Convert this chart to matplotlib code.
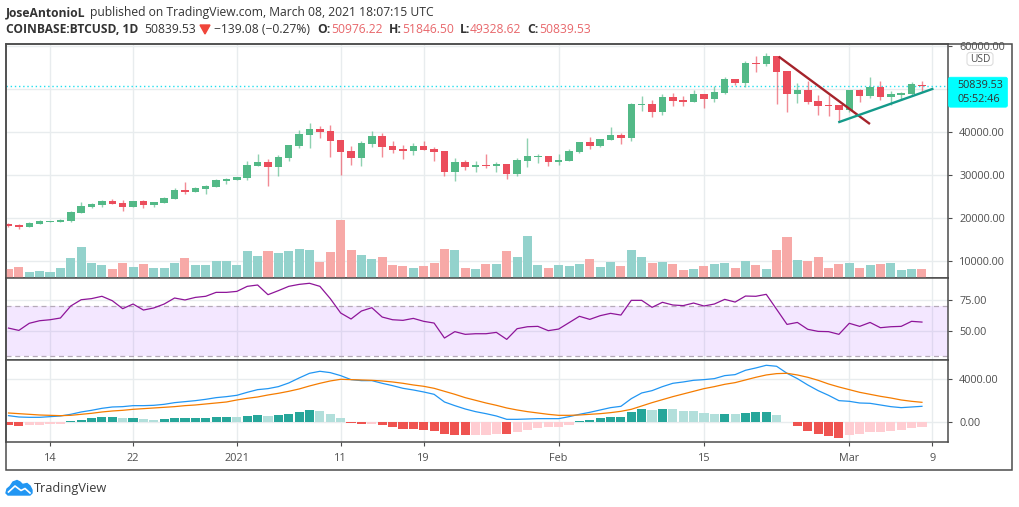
#!/usr/bin/env python3
import matplotlib
matplotlib.use('Agg')
import matplotlib.pyplot as plt
from matplotlib.patches import Rectangle, Polygon, FancyBboxPatch
import numpy as np

W, H = 1019, 507
plt.rcParams['font.family'] = ['Open Sans', 'DejaVu Sans']

# Daily candles, 2020-12-10 to 2021-03-08
opens = [18680, 18450, 17985, 18760, 19225, 19225, 19460, 21320, 22635, 23100, 24030,
         23565, 22635, 24030, 23180, 23640, 24495, 26590, 26120, 26820, 27285, 28760,
         28910, 29380, 32245, 33100, 32010, 34105, 36895, 39375, 40770, 40305, 38215,
         35660, 34110, 37285, 39145, 36820, 36120, 35660, 36820, 36120, 35660, 30775,
         33100, 31940, 32400, 32170, 32635, 30310, 33330, 34260, 34495,
         33100, 33330, 35425, 37750, 36820, 38215, 39380, 38680, 46350, 46585, 44725,
         48210, 47515, 47050, 48910, 47750, 49140, 52400, 51470, 56120, 55885, 57745,
         54260, 48910, 49840, 47280, 46350, 46350,
         45190, 49840, 48445, 50540, 48210, 48680, 48910, 50976.22]
closes = [18220, 17985, 18915, 19460, 19380, 19610, 21470, 22870, 23330, 24030, 23410,
          22710, 24030, 23180, 23800, 24730, 26590, 26200, 27050, 27520, 28910, 29145,
          29530, 32400, 33100, 32010, 34260, 37050, 39610, 40770, 40075, 38060, 35500,
          34110, 37520, 39145, 36590, 35890, 35660, 36820, 35890, 35425, 30775, 33100,
          31940, 32400, 32090, 32635, 30310, 33565, 34495, 34495, 33100,
          33565, 35660, 37750, 36820, 38450, 39380, 38680, 46585, 46585, 44725, 48210,
          47280, 47050, 48910, 47750, 49375, 52400, 51470, 56120, 55885, 57745, 54025,
          48910, 49840, 47050, 46120, 46120, 45190,
          49840, 48445, 50540, 48210, 48910, 49140, 51235, 50839.53]
highs = [18840, 18600, 19150, 19610, 19460, 19770, 21700, 23800, 23490, 24185, 24420,
         24185, 24110, 24260, 23875, 25040, 26975, 28450, 27285, 27670, 29070, 29300,
         29690, 33250, 34960, 33720, 34725, 37050, 40460, 42165, 41470, 41700, 38215,
         36820, 37980, 40310, 39765, 37980, 37050, 37520, 37980, 36590, 35660, 34030,
         33565, 33330, 34960, 33100, 32635, 34030, 38680, 34960, 34495,
         34960, 36120, 37750, 38910, 38450, 41240, 39840, 46820, 48445, 47515, 48910,
         49140, 48445, 49840, 48910, 50770, 52860, 52400, 56580, 57745, 58440, 57745,
         54260, 51470, 51930, 48680, 48680, 46350,
         49840, 50070, 52860, 51930, 49610, 49375, 51700, 51846.50]
lows = [17900, 17600, 17900, 18680, 19150, 19070, 19225, 21160, 22325, 22710, 23330,
        21780, 22560, 22400, 22710, 23490, 24420, 25735, 26045, 25735, 27285, 28060,
        28910, 28990, 32090, 27600, 29920, 33410, 36275, 36430, 38755, 34340, 30080,
        32400, 32170, 36665, 34260, 35190, 33800, 34730, 35890, 33330, 29845, 28680,
        31240, 30775, 31705, 30775, 29150, 29845, 31940, 32870, 32170,
        32400, 33330, 35190, 36120, 36590, 38215, 37285, 37980, 44960, 43560, 44030,
        46120, 46120, 47050, 45655, 47050, 48910, 51000, 50540, 54025, 55420, 46585,
        44725, 46820, 46585, 44030, 43800, 42630,
        44725, 47050, 47980, 47515, 46350, 47515, 48680, 49328.62]
volumes = [9, 11, 6, 7, 6, 10, 20, 31, 15, 13, 9, 15, 11, 14, 10, 10, 15, 20, 13, 13, 17, 17,
           13, 27, 22, 27, 25, 27, 29, 28, 16, 26, 58, 28, 23, 19, 21, 13, 12, 10, 12, 15, 29,
           28, 10, 9, 14, 14, 27, 21, 42, 13, 10,
           13, 12, 14, 19, 11, 16, 12, 28, 21, 15, 16, 14, 8, 9, 12, 14, 15, 10, 17, 13, 9,
           28, 41, 18, 17, 21, 10, 14,
           15, 10, 13, 14, 15, 8, 9, 9]

rsi = [52.4, 50.5, 56.3, 58.4, 59.2, 60.6, 70.4, 75.5, 76.4, 78.3, 74.7, 68.2, 72, 67.1, 68.8,
       72, 76.9, 75.3, 77.4, 78.3, 81.5, 81.5,
       82.3, 86.4, 87.5, 79.6, 82.9, 86.4, 88, 88.9, 86.4, 76.4, 64.7, 59.8, 66.3, 69, 61.4,
       59.2, 58.7, 60.3, 57.9, 56.5, 44.3, 49.5, 47.3, 47.8, 47.8, 48.9, 43.2, 51.9, 53.5,
       53.8, 50.3,
       51.6, 56.8, 62, 59.5, 62.5, 64.4, 63, 75, 75, 69.3, 73.4, 71.2, 70.7, 72.8, 70.4, 72,
       75.8, 73.6, 78.5, 78.3, 79.9, 67.7, 55.4, 57, 51.4, 49.7, 49.5, 47.3,
       56.3, 53.8, 57, 52.7, 53.5, 53.8, 57.9, 57.3]

macd_line = [594, 469, 438, 438, 500, 563, 719, 938, 1094, 1281, 1406, 1438, 1531, 1531, 1563,
             1656, 1813, 1906, 2000, 2125, 2281, 2375,
             2500, 2781, 3031, 3125, 3313, 3656, 4125, 4563, 4750, 4625, 4344, 3969, 3875, 3875,
             3625, 3406, 3156, 3000, 2813, 2594, 1875, 1531, 1219, 969, 781, 563, 250, 250, 281,
             313, 313,
             313, 500, 719, 906, 1125, 1344, 1469, 2188, 2719, 2938, 3313, 3625, 3750, 3906, 3969,
             4063, 4344, 4438, 4844, 5063, 5313, 5219, 4563, 4063, 3469, 2938, 2500, 2000,
             1938, 1781, 1750, 1594, 1438, 1344, 1406, 1469]
signal_line = [844, 781, 719, 656, 625, 594, 625, 719, 813, 938, 1031, 1094, 1188, 1250, 1313,
               1375, 1438, 1531, 1594, 1688, 1781, 1875,
               2063, 2219, 2344, 2531, 2688, 2875, 3094, 3375, 3625, 3844, 4000, 3969, 3938, 3906,
               3844, 3750, 3625, 3469, 3344, 3156, 2875, 2594, 2281, 2031, 1781, 1563, 1313, 1125,
               969, 844, 719,
               625, 625, 656, 719, 781, 875, 1000, 1188, 1500, 1813, 2094, 2375, 2625, 2875, 3125,
               3313, 3531, 3688, 3938, 4188, 4406, 4531, 4563, 4406, 4188, 3906, 3563, 3281,
               3031, 2781, 2594, 2406, 2250, 2063, 1938, 1844]
hist = [-281, -344, -281, -250, -188, -188, 125, 219, 406, 469, 469, 375, 375, 281, 188,
        281, 375, 375, 375, 375, 469, 480,
        450, 563, 656, 560, 656, 750, 938, 1125, 1031, 750, 375, -63, -188, -156,
        -281, -469, -656, -670, -750, -844, -1125, -1219, -1225, -1219, -1210, -1125, -1130, -938, -750,
        -594, -469,
        -460, -281, 94, 188, 375, 469, 475, 938, 1219, 1125, 1219, 1210, 1031, 1025, 844,
        750, 760, 745, 844, 938, 945, 656, 30, -375, -844, -1125, -1313, -1500,
        -1219, -1125, -938, -930, -844, -750, -563, -469]

tick_pos = [4, 12, 22, 32, 40, 53, 67, 81, 89]
tick_labels = ['14', '22', '2021', '11', '19', 'Feb', '15', 'Mar', '9']

# Trend lines drawn on the chart (day index, price)
red_trend_x = [74.3, 82.9]
red_trend_y = [57435, 42090]
teal_trend_x = [80.04, 89.0]
teal_trend_y = [42400, 50070]

GREEN = '#53b987'
RED = '#eb4d5c'
GRID = '#e8ecee'
BORDER = '#4c4c4c'
TEXT = '#4f4f4f'
LABEL_SIZE = 7.8

days = np.arange(len(opens))
opens, closes, highs, lows = map(np.array, (opens, closes, highs, lows))
up = closes >= opens


def pane(top, bottom):
    a = fig.add_axes([6 / W, 1 - bottom / H, 942 / W, (bottom - top) / H])
    a.set_xlim(-0.24, 90.51)
    a.set_xticks(tick_pos)
    a.grid(True, color=GRID, linewidth=1)
    a.set_axisbelow(True)
    a.yaxis.tick_right()
    a.tick_params(axis='y', length=3, width=0.8, color=BORDER, labelcolor=TEXT,
                  labelsize=LABEL_SIZE, pad=5)
    a.tick_params(axis='x', length=0, labelbottom=False)
    for s in a.spines.values():
        s.set_color(BORDER)
        s.set_linewidth(1.1)
    return a


fig = plt.figure(figsize=(W / 100, H / 100), dpi=100)

# Price pane (the 50000 label sits behind the last price tag)
ax = pane(44, 278)
ax.set_ylim(6116, 60535)
ax.set_yticks([10000, 20000, 30000, 40000, 50000, 60000])
ax.set_yticklabels(['10000.00', '20000.00', '30000.00', '40000.00', '', '60000.00'])
colors = [GREEN if u else RED for u in up]
ax.vlines(days, lows, highs, colors=colors, linewidth=1, alpha=0.65, zorder=3)
ax.bar(days, np.maximum(np.abs(closes - opens), 150), bottom=np.minimum(opens, closes),
       width=0.72, color=colors, zorder=4)
ax.axhline(closes[-1], color='#22dfee', linewidth=1, linestyle=(0, (1, 2)), zorder=2)
ax.plot(red_trend_x, red_trend_y, color='#a5232b', linewidth=1.7, zorder=5)
ax.plot(teal_trend_x, teal_trend_y, color='#149a8a', linewidth=1.7, zorder=5)

vol_ax = ax.twinx()
vol_ax.set_ylim(0, 234)
vol_ax.axis('off')
vol_colors = ['#93d2cc' if u else '#f7a9a7' for u in up]
vol_ax.bar(days, volumes, width=0.87, color=vol_colors)
ax.yaxis.tick_right()

# RSI pane
ax2 = pane(278, 360)
ax2.set_ylim(26.4, 93.2)
ax2.set_yticks([50, 75])
ax2.set_yticklabels(['50.00', '75.00'])
ax2.axhspan(30, 70, color='#a64dff', alpha=0.13, linewidth=0, zorder=1)
ax2.axhline(70, color='#b5aab8', linewidth=0.9, linestyle=(0, (4, 3)), zorder=2)
ax2.axhline(30, color='#b5aab8', linewidth=0.9, linestyle=(0, (4, 3)), zorder=2)
ax2.plot(days, rsi, color='#8e1599', linewidth=0.9, zorder=3)

# MACD pane
ax3 = pane(360, 442)
ax3.set_ylim(-1874, 5808)
ax3.set_yticks([0, 4000])
ax3.set_yticklabels(['0.00', '4000.00'])
hist_colors = []
for i, h in enumerate(hist):
    rising = i > 0 and h >= hist[i - 1]
    if h >= 0:
        hist_colors.append('#26a69a' if rising else '#b2dfdb')
    else:
        hist_colors.append('#ffcdd2' if rising else '#ef5350')
ax3.bar(days, hist, width=0.88, color=hist_colors, zorder=2)
ax3.plot(days, macd_line, color='#2196f3', linewidth=0.9, zorder=3)
ax3.plot(days, signal_line, color='#f57c00', linewidth=0.9, zorder=3)
ax3.tick_params(axis='x', length=3, width=0.8, color=BORDER, labelcolor=TEXT,
                labelsize=LABEL_SIZE, labelbottom=True, pad=5)
ax3.set_xticklabels(tick_labels)

# Overlay in pixel coordinates for frame, header, price tag, logo
ov = fig.add_axes([0, 0, 1, 1], zorder=10)
ov.set_xlim(0, W)
ov.set_ylim(H, 0)
ov.axis('off')
ov.add_patch(Rectangle((6, 44), 1006, 426, fill=False, edgecolor=BORDER, linewidth=1.1))

DARK = '#333333'
VAL = '#e8676b'
SZ = 8.75
ov.text(6, 12.5, 'JoseAntonioL', fontsize=SZ, fontweight='bold', color=DARK, va='center')
ov.text(90, 12.5, 'published on TradingView.com, March 08, 2021 18:07:15 UTC', fontsize=SZ,
        color=DARK, va='center')
ov.text(6, 29.5, 'COINBASE:BTCUSD, 1D', fontsize=8.65, fontweight='bold', color=DARK, va='center')
ov.text(144, 29.5, '50839.53', fontsize=SZ, color=DARK, va='center')
ov.add_patch(Polygon([(200, 25), (210, 25), (205, 34)], color='#f0453a'))
ov.text(214, 29.5, '\u2212139.08 (\u22120.27%)', fontsize=SZ, color=DARK, va='center')
for lx, lab, vx, val in [(317, 'O:', 331, '50976.22'), (389, 'H:', 402, '51846.50'),
                         (460, 'L:', 470, '49328.62'), (527, 'C:', 539, '50839.53')]:
    ov.text(lx, 29.5, lab, fontsize=SZ, fontweight='bold', color=DARK, va='center')
    ov.text(vx, 29.5, val, fontsize=SZ, color=VAL, va='center')

# Last price tag, placed from the price scale
tag_y = H - ax.transData.transform((0, closes[-1]))[1]
ov.add_patch(FancyBboxPatch((948.5, tag_y - 8.5), 59, 30, boxstyle='round,pad=0,rounding_size=2',
                            facecolor='#00ffff', edgecolor='#00ffff', linewidth=0.5))
ov.text(957.7, tag_y, '50839.53', fontsize=LABEL_SIZE, color=DARK, va='center')
ov.text(957.7, tag_y + 13.5, '05:52:46', fontsize=LABEL_SIZE, color=DARK, va='center')
ov.add_patch(FancyBboxPatch((967, 52.5), 26, 13, boxstyle='round,pad=0,rounding_size=3',
                            facecolor='white', edgecolor='#dddddd', linewidth=0.8))
ov.text(980, 59, 'USD', fontsize=7.3, color=TEXT, va='center', ha='center')

# Logo
ov.add_patch(Polygon([(6, 493), (7, 489), (10, 486.5), (13, 482), (17, 480.5), (20, 482),
                      (22.5, 484.5), (27, 483.5), (30, 486), (32, 490), (32, 493),
                      (30, 495), (8, 495)], color='#2196f3'))
ov.plot([8.5, 15, 21, 25, 30], [492, 486, 490.5, 488.5, 493], color='white', linewidth=1.2)
ov.text(34, 488.5, 'TradingView', fontsize=9.2, color='#3b3b3b', va='center')

fig.savefig('out.png', dpi=100)
